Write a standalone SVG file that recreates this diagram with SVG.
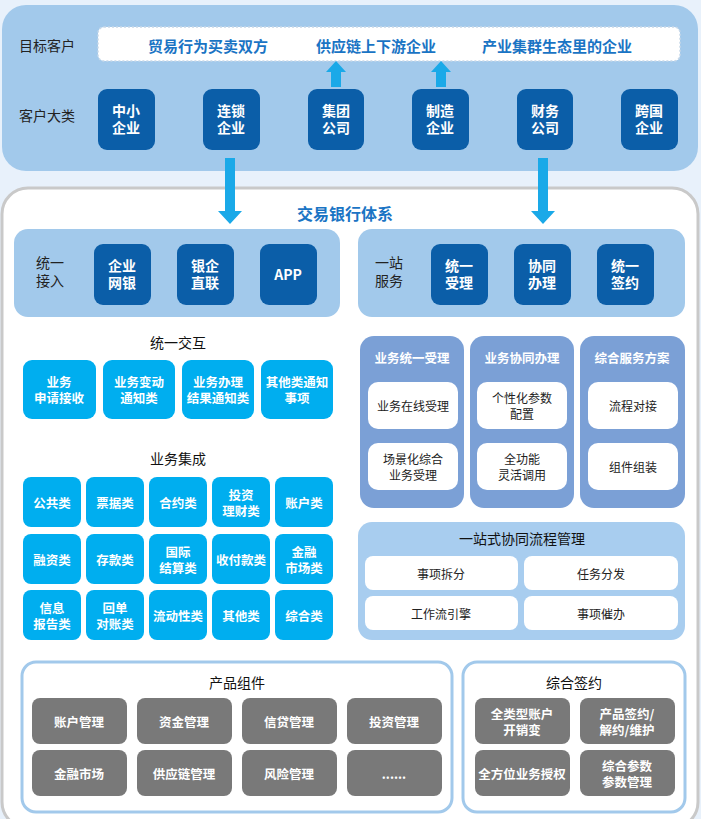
<svg xmlns="http://www.w3.org/2000/svg" width="701" height="819" viewBox="0 0 701 819">
<style>
text{font-family:"Noto Sans CJK SC","Liberation Sans",sans-serif;text-anchor:middle;dominant-baseline:central}
.db rect{fill:#0b5ea8}.db text{fill:#fff;font-size:14px;font-weight:bold}
.cy rect{fill:#00aeef}.cy text{fill:#fff;font-size:12.5px;font-weight:bold}
.wb rect{fill:#fff}.wb text{fill:#222;font-size:12px}
.gr rect{fill:#797979}.gr text{fill:#fff;font-size:12.5px;font-weight:bold}
.pp rect{fill:#7ba0d6}
.lbl{font-size:14px;fill:#222}
.ttl{font-size:14px;fill:#111}
.arr{fill:#1aa9e8}
</style>
<rect width="701" height="819" fill="#e8f1fb"/>
<g id="customers">
<rect x="2" y="5" width="696" height="166" rx="24" fill="#a2c9eb"/>
<rect x="98" y="27" width="582" height="34" rx="6" fill="#fff" stroke="#c8d8e8" stroke-dasharray="2 2" stroke-width="1.5"/>
<text x="47" y="45" class="lbl">目标客户</text>
<text x="47" y="115" class="lbl">客户大类</text>
<g fill="#1a74c4" font-weight="bold" font-size="15px">
<text x="208" y="45" fill="#1a74c4">贸易行为买卖双方</text>
<text x="376" y="45" fill="#1a74c4">供应链上下游企业</text>
<text x="557" y="45" fill="#1a74c4">产业集群生态里的企业</text>
</g>
</g>
<g id="cust-nodes" class="db">
<g id="n1"><rect x="98" y="89" width="57" height="61" rx="9"/><text x="126" y="110">中小</text><text x="126" y="127">企业</text></g>
<g id="n2"><rect x="203" y="89" width="57" height="61" rx="9"/><text x="231" y="110">连锁</text><text x="231" y="127">企业</text></g>
<g id="n3"><rect x="308" y="89" width="56" height="61" rx="9"/><text x="336" y="110">集团</text><text x="336" y="127">公司</text></g>
<g id="n4"><rect x="412" y="89" width="57" height="61" rx="9"/><text x="440" y="110">制造</text><text x="440" y="127">企业</text></g>
<g id="n5"><rect x="517" y="89" width="56" height="61" rx="9"/><text x="545" y="110">财务</text><text x="545" y="127">公司</text></g>
<g id="n6"><rect x="621" y="89" width="57" height="61" rx="9"/><text x="649" y="110">跨国</text><text x="649" y="127">企业</text></g>
</g>
<rect x="2" y="188" width="696" height="640" rx="26" fill="#fff" stroke="#c9c9c9" stroke-width="3"/>
<g id="connectors">
<path class="arr" d="M331 87V72H326L336 61L346 72H341V87Z"/>
<path class="arr" d="M436 87V72H431L441 61L451 72H446V87Z"/>
<path class="arr" d="M225 158V211H218L230 224L242 211H235V158Z"/>
<path class="arr" d="M538 158V211H531L543 224L555 211H548V158Z"/>
</g>
<text x="345" y="213" font-size="16px" font-weight="bold" fill="#1a74c4">交易银行体系</text>
<g id="access">
<rect x="14" y="229" width="326" height="88" rx="14" fill="#a2c9eb"/>
<text x="50" y="262" class="lbl">统一</text><text x="50" y="280" class="lbl">接入</text>
<g class="db">
<g id="a1"><rect x="94" y="244" width="57" height="61" rx="9"/><text x="122" y="265">企业</text><text x="122" y="282">网银</text></g>
<g id="a2"><rect x="177" y="244" width="57" height="61" rx="9"/><text x="205" y="265">银企</text><text x="205" y="282">直联</text></g>
<g id="a3"><rect x="260" y="244" width="57" height="61" rx="9"/><text x="288" y="274">APP</text></g>
</g>
</g>
<g id="service">
<rect x="358" y="229" width="327" height="88" rx="14" fill="#a2c9eb"/>
<text x="389" y="262" class="lbl">一站</text><text x="389" y="280" class="lbl">服务</text>
<g class="db">
<g id="s1"><rect x="431" y="244" width="57" height="61" rx="9"/><text x="459" y="265">统一</text><text x="459" y="282">受理</text></g>
<g id="s2"><rect x="514" y="244" width="57" height="61" rx="9"/><text x="542" y="265">协同</text><text x="542" y="282">办理</text></g>
<g id="s3"><rect x="597" y="244" width="57" height="61" rx="9"/><text x="625" y="265">统一</text><text x="625" y="282">签约</text></g>
</g>
</g>
<g id="interact" class="cy">
<text x="178" y="342" class="ttl" style="fill:#111;font-weight:normal;font-size:14px">统一交互</text>
<g><rect x="23" y="360" width="73" height="59" rx="9"/><text x="59" y="381">业务</text><text x="59" y="397">申请接收</text></g>
<g><rect x="103" y="360" width="72" height="59" rx="9"/><text x="139" y="381">业务变动</text><text x="139" y="397">通知类</text></g>
<g><rect x="182" y="360" width="72" height="59" rx="9"/><text x="218" y="381">业务办理</text><text x="218" y="397">结果通知类</text></g>
<g><rect x="261" y="360" width="72" height="59" rx="9"/><text x="297" y="381">其他类通知</text><text x="297" y="397">事项</text></g>
</g>
<g id="integration" class="cy">
<text x="178" y="458" style="fill:#111;font-weight:normal;font-size:14px">业务集成</text>
<g><rect x="23" y="477" width="58" height="50" rx="8"/><text x="52" y="502">公共类</text></g>
<g><rect x="86" y="477" width="58" height="50" rx="8"/><text x="115" y="502">票据类</text></g>
<g><rect x="149" y="477" width="58" height="50" rx="8"/><text x="178" y="502">合约类</text></g>
<g><rect x="212" y="477" width="58" height="50" rx="8"/><text x="241" y="494">投资</text><text x="241" y="510">理财类</text></g>
<g><rect x="275" y="477" width="58" height="50" rx="8"/><text x="304" y="502">账户类</text></g>
<g><rect x="23" y="534" width="58" height="50" rx="8"/><text x="52" y="559">融资类</text></g>
<g><rect x="86" y="534" width="58" height="50" rx="8"/><text x="115" y="559">存款类</text></g>
<g><rect x="149" y="534" width="58" height="50" rx="8"/><text x="178" y="551">国际</text><text x="178" y="567">结算类</text></g>
<g><rect x="212" y="534" width="58" height="50" rx="8"/><text x="241" y="559">收付款类</text></g>
<g><rect x="275" y="534" width="58" height="50" rx="8"/><text x="304" y="551">金融</text><text x="304" y="567">市场类</text></g>
<g><rect x="23" y="590" width="58" height="50" rx="8"/><text x="52" y="607">信息</text><text x="52" y="623">报告类</text></g>
<g><rect x="86" y="590" width="58" height="50" rx="8"/><text x="115" y="607">回单</text><text x="115" y="623">对账类</text></g>
<g><rect x="149" y="590" width="58" height="50" rx="8"/><text x="178" y="615">流动性类</text></g>
<g><rect x="212" y="590" width="58" height="50" rx="8"/><text x="241" y="615">其他类</text></g>
<g><rect x="275" y="590" width="58" height="50" rx="8"/><text x="304" y="615">综合类</text></g>
</g>
<g id="columns" class="pp">
<g><rect x="360" y="336" width="104" height="172" rx="14"/><text x="412" y="357" fill="#fff" font-size="12.5px" font-weight="bold">业务统一受理</text></g>
<g><rect x="470" y="336" width="104" height="172" rx="14"/><text x="522" y="357" fill="#fff" font-size="12.5px" font-weight="bold">业务协同办理</text></g>
<g><rect x="580" y="336" width="105" height="172" rx="14"/><text x="632" y="357" fill="#fff" font-size="12.5px" font-weight="bold">综合服务方案</text></g>
</g>
<g class="wb">
<g><rect x="368" y="382" width="90" height="47" rx="10"/><text x="413" y="405">业务在线受理</text></g>
<g><rect x="368" y="443" width="90" height="47" rx="10"/><text x="413" y="458">场景化综合</text><text x="413" y="474">业务受理</text></g>
<g><rect x="477" y="382" width="90" height="47" rx="10"/><text x="522" y="397">个性化参数</text><text x="522" y="413">配置</text></g>
<g><rect x="477" y="443" width="90" height="47" rx="10"/><text x="522" y="458">全功能</text><text x="522" y="474">灵活调用</text></g>
<g><rect x="588" y="382" width="90" height="47" rx="10"/><text x="633" y="405">流程对接</text></g>
<g><rect x="588" y="443" width="90" height="47" rx="10"/><text x="633" y="466">组件组装</text></g>
</g>
<g id="flow">
<rect x="358" y="522" width="327" height="118" rx="14" fill="#a8cdef"/>
<text x="522" y="538" class="ttl">一站式协同流程管理</text>
<g class="wb">
<g><rect x="365" y="556" width="153" height="34" rx="8"/><text x="441" y="573">事项拆分</text></g>
<g><rect x="524" y="556" width="154" height="34" rx="8"/><text x="601" y="573">任务分发</text></g>
<g><rect x="365" y="596" width="153" height="34" rx="8"/><text x="441" y="613">工作流引擎</text></g>
<g><rect x="524" y="596" width="154" height="34" rx="8"/><text x="601" y="613">事项催办</text></g>
</g>
</g>
<g id="products">
<rect x="22" y="662" width="430" height="150" rx="14" fill="#fff" stroke="#a2c9eb" stroke-width="3"/>
<text x="237" y="682" class="ttl">产品组件</text>
<g class="gr">
<g><rect x="32" y="698" width="95" height="46" rx="8"/><text x="79" y="721">账户管理</text></g>
<g><rect x="137" y="698" width="95" height="46" rx="8"/><text x="184" y="721">资金管理</text></g>
<g><rect x="242" y="698" width="95" height="46" rx="8"/><text x="289" y="721">信贷管理</text></g>
<g><rect x="347" y="698" width="95" height="46" rx="8"/><text x="394" y="721">投资管理</text></g>
<g><rect x="32" y="750" width="95" height="46" rx="8"/><text x="79" y="773">金融市场</text></g>
<g><rect x="137" y="750" width="95" height="46" rx="8"/><text x="184" y="773">供应链管理</text></g>
<g><rect x="242" y="750" width="95" height="46" rx="8"/><text x="289" y="773">风险管理</text></g>
<g><rect x="347" y="750" width="95" height="46" rx="8"/><text x="394" y="773">......</text></g>
</g>
</g>
<g id="signing">
<rect x="463" y="662" width="222" height="150" rx="14" fill="#fff" stroke="#a2c9eb" stroke-width="3"/>
<text x="574" y="682" class="ttl">综合签约</text>
<g class="gr">
<g><rect x="475" y="698" width="95" height="46" rx="8"/><text x="522" y="713">全类型账户</text><text x="522" y="729">开销变</text></g>
<g><rect x="580" y="698" width="95" height="46" rx="8"/><text x="627" y="713">产品签约/</text><text x="627" y="729">解约/维护</text></g>
<g><rect x="475" y="750" width="95" height="46" rx="8"/><text x="522" y="773">全方位业务授权</text></g>
<g><rect x="580" y="750" width="95" height="46" rx="8"/><text x="627" y="765">综合参数</text><text x="627" y="781">参数管理</text></g>
</g>
</g>
</svg>
